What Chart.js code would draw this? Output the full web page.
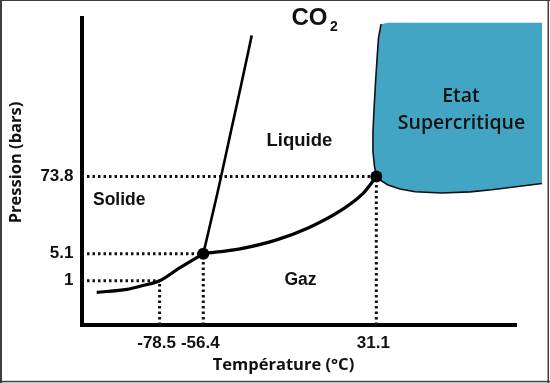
<!DOCTYPE html>
<html>
<head>
<meta charset="utf-8">
<script src="https://cdn.jsdelivr.net/npm/chart.js@4/dist/chart.umd.min.js"></script>
<style>html,body{margin:0;padding:0;background:#fff}canvas{display:block}</style>
</head>
<body>
<canvas id="c" width="550" height="383"></canvas>
<script>
// ---- data ----
const xTickValues = [-78.5, -56.4, 31.1];
const xTickLabels = ['-78.5', '-56.4', '31.1'];
const yTickValues = [1, 5.1, 73.8];
const yTickLabels = ['1', '5.1', '73.8'];
const tempRange = [-118, 102];          // °C
const pressureRange = [0.00106, 1184];  // bars
const specialT = [-56.4, 31.1];         // triple point, critical point
const specialP = [5.1, 73.8];
const sublimationT = [-110.3, -95.1, -87.4, -78.5, -68.2, -56.4];
const sublimationP = [0.38, 0.50, 0.68, 1, 2.39, 5.1];
const vaporT = [-56.4, -37.8, -20.1, -3.4, 13.6, 24.4, 31.1];
const vaporP = [5.1, 6.43, 9.34, 15.3, 28.6, 47.0, 73.8];
const fusionT = [-56.4, -49.3, -47.4, -42.5, -37.0, -31.9];
const fusionP = [5.1, 47.0, 73.8, 199, 477, 947];
const superT = [33.5, 32.2, 31.5, 30.7, 30.0, 29.4, 29.4, 30.2, 31.1, 33.0, 37.0, 43.1, 50.7, 64.2, 78.5, 89.5, 114.9, 114.9, 37.0];
const superP = [1097, 914, 694, 477, 316, 199, 132, 94.1, 73.8, 67.6, 59.3, 53.3, 49.4, 47.5, 49.1, 52.1, 61.7, 1118, 1118];
const superOutlineEnd = 16; // index of last outlined point (left + bottom edges)

const zip = (xs, ys) => xs.map((x, i) => ({x, y: ys[i]}));

// ---- power (P^0.25) scale used by the schematic pressure axis ----
const POWER = 0.25;
class PowerScale extends Chart.LinearScale {
  static id = 'power';
  static defaults = {};
  _t(v) { return Math.pow(Math.max(v, 0), POWER); }
  getPixelForValue(value) {
    const a = this._t(this.min), b = this._t(this.max);
    return this.getPixelForDecimal((this._t(value) - a) / (b - a));
  }
  getValueForPixel(pixel) {
    const a = this._t(this.min), b = this._t(this.max);
    const d = this.getDecimalForPixel(pixel);
    return Math.pow(a + d * (b - a), 1 / POWER);
  }
}
Chart.register(PowerScale);

const TEAL = '#42a5c3';
const INK = '#111';
const tickFont = {family: '"Liberation Sans", Arial, sans-serif', size: 17, weight: 'bold'};
const dotted = {borderColor: INK, borderWidth: 3, borderDash: [2.5, 3], pointRadius: 0, fill: false};

const regionFill = {
  id: 'regionFill',
  beforeDatasetsDraw(chart) {
    const idx = chart.data.datasets.findIndex(d => d.label === 'Etat supercritique');
    const pts = chart.getDatasetMeta(idx).data;
    const c = chart.ctx;
    c.save();
    c.beginPath();
    pts.forEach((p, i) => i ? c.lineTo(p.x, p.y) : c.moveTo(p.x, p.y));
    c.closePath();
    c.fillStyle = TEAL;
    c.fill();
    c.restore();
  }
};

const texts = {
  id: 'texts',
  afterDraw(chart) {
    const c = chart.ctx;
    c.save();
    c.fillStyle = INK;
    c.textBaseline = 'alphabetic';
    c.textAlign = 'left';
    c.font = 'bold 24px "Liberation Sans", Arial, sans-serif';
    c.fillText('CO', 291.5, 25);
    c.font = 'bold 14px "Liberation Sans", Arial, sans-serif';
    c.fillText('2', 330, 31);
    c.font = 'bold 18.5px "Liberation Sans", Arial, sans-serif';
    c.fillText('Liquide', 266.5, 145.5);
    c.font = 'bold 17.5px "Liberation Sans", Arial, sans-serif';
    c.fillText('Solide', 93, 205);
    c.fillText('Gaz', 284.5, 285);
    c.textAlign = 'center';
    c.font = '600 19.5px "Open Sans", sans-serif';
    c.fillText('Etat', 461, 102);
    c.fillText('Supercritique', 461.5, 128.5);
    c.font = 'bold 16.5px "Open Sans", sans-serif';
    c.fillText('Température (°C)', 283.5, 370);
    c.translate(21, 162.5);
    c.rotate(-Math.PI / 2);
    c.fillText('Pression (bars)', 0, 0);
    c.restore();
    // picture frame
    c.save();
    c.fillStyle = '#3d3d3d';
    c.fillRect(0, 0, 2, 383);
    c.fillRect(0, 0, 550, 1);
    c.fillRect(547.5, 0, 1.5, 383);
    c.fillRect(0, 380.8, 550, 1.5);
    c.restore();
  }
};

new Chart(document.getElementById('c'), {
  type: 'line',
  data: {
    datasets: [
      {label: 'Points', data: zip(specialT, specialP), showLine: false, pointRadius: 6,
       pointBackgroundColor: '#000', pointBorderWidth: 0, clip: false},
      {label: 'Sublimation', data: zip(sublimationT, sublimationP), borderColor: '#000', borderWidth: 3.2,
       cubicInterpolationMode: 'monotone', fill: false},
      {label: 'Vaporisation', data: zip(vaporT, vaporP), borderColor: '#000', borderWidth: 3.2,
       cubicInterpolationMode: 'monotone', fill: false},
      {label: 'Fusion', data: zip(fusionT, fusionP), borderColor: '#000', borderWidth: 2.6,
       cubicInterpolationMode: 'monotone', fill: false},
      {label: 'h73.8', data: [{x: tempRange[0], y: yTickValues[2]}, {x: xTickValues[2], y: yTickValues[2]}], ...dotted},
      {label: 'h5.1', data: [{x: tempRange[0], y: yTickValues[1]}, {x: xTickValues[1], y: yTickValues[1]}], ...dotted},
      {label: 'h1', data: [{x: tempRange[0], y: yTickValues[0]}, {x: xTickValues[0], y: yTickValues[0]}], ...dotted},
      {label: 'v-78.5', data: [{x: xTickValues[0], y: pressureRange[0]}, {x: xTickValues[0], y: yTickValues[0]}], ...dotted},
      {label: 'v-56.4', data: [{x: xTickValues[1], y: pressureRange[0]}, {x: xTickValues[1], y: yTickValues[1]}], ...dotted},
      {label: 'v31.1', data: [{x: xTickValues[2], y: pressureRange[0]}, {x: xTickValues[2], y: yTickValues[2]}], ...dotted},
      {label: 'Etat supercritique', data: zip(superT, superP), borderColor: INK, borderWidth: 1.6,
       backgroundColor: TEAL, fill: false, clip: false,
       segment: {borderColor: s => s.p0DataIndex >= superOutlineEnd ? 'rgba(0,0,0,0)' : INK}}
    ]
  },
  options: {
    responsive: false,
    animation: false,
    events: [],
    layout: {padding: {left: 0, top: 15, right: 33.5, bottom: 0}},
    plugins: {legend: {display: false}, tooltip: {enabled: false}},
    elements: {point: {radius: 0, hoverRadius: 0}, line: {borderCapStyle: 'butt', tension: 0}},
    scales: {
      x: {
        type: 'linear', min: tempRange[0], max: tempRange[1],
        grid: {display: false, drawTicks: false},
        border: {display: true, color: '#000', width: 4},
        afterBuildTicks: s => { s.ticks = xTickValues.map(v => ({value: v})); },
        afterFit: s => { s.height = 58; },
        ticks: {autoSkip: false, maxRotation: 0, padding: 8, labelOffset: -3, color: INK, font: tickFont,
                callback: (v, i) => xTickLabels[i]}
      },
      y: {
        type: 'power', min: pressureRange[0], max: pressureRange[1],
        grid: {display: false, drawTicks: false},
        border: {display: true, color: '#000', width: 4},
        afterBuildTicks: s => { s.ticks = yTickValues.map(v => ({value: v})); },
        afterFit: s => { s.width = 81.5; },
        ticks: {autoSkip: false, padding: 8, color: INK, font: tickFont,
                callback: (v, i) => yTickLabels[i]}
      }
    }
  },
  plugins: [regionFill, texts]
});
</script>
</body>
</html>
